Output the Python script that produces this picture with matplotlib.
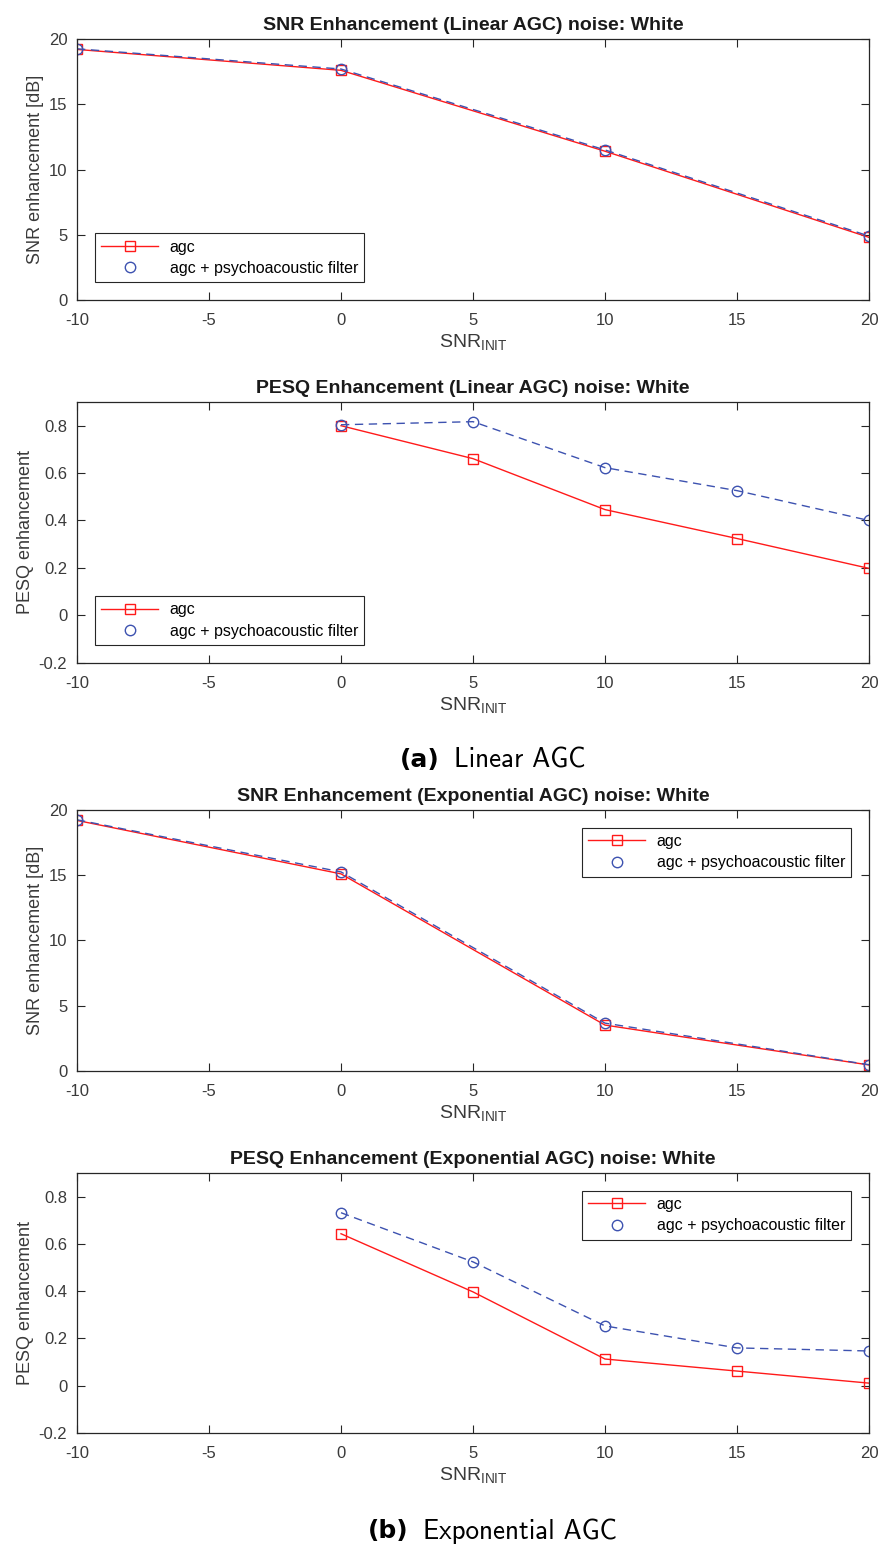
import matplotlib
matplotlib.use("Agg")
import matplotlib.pyplot as plt
from matplotlib.lines import Line2D

# SNR at input (dB)
snr_x = [-10, 0, 10, 20]
pesq_x = [0, 5, 10, 15, 20]

# Linear AGC
lin_snr_agc = [19.2, 17.6, 11.4, 4.8]
lin_snr_psy = [19.25, 17.7, 11.5, 4.9]
lin_pesq_agc = [0.80, 0.661, 0.446, 0.324, 0.198]
lin_pesq_psy = [0.804, 0.817, 0.623, 0.526, 0.40]

# Exponential AGC
exp_snr_agc = [19.2, 15.1, 3.5, 0.44]
exp_snr_psy = [19.25, 15.25, 3.65, 0.46]
exp_pesq_agc = [0.643, 0.397, 0.113, 0.062, 0.011]
exp_pesq_psy = [0.732, 0.524, 0.253, 0.160, 0.147]

titles = [
    "SNR Enhancement (Linear AGC) noise: White",
    "PESQ Enhancement (Linear AGC) noise: White",
    "SNR Enhancement (Exponential AGC) noise: White",
    "PESQ Enhancement (Exponential AGC) noise: White",
]
legend_labels = ["agc", "agc + psychoacoustic filter"]

plt.rcParams["font.family"] = ["Liberation Sans", "DejaVu Sans"]
plt.rcParams["mathtext.fontset"] = "custom"
plt.rcParams["mathtext.rm"] = "Liberation Sans"
plt.rcParams["mathtext.it"] = "Liberation Sans"

RED = "#ff1a1a"
BLUE = "#3d52b0"
GREY = "#262626"
TXT = "#3a3a3a"

fig = plt.figure(figsize=(8.81, 15.49), dpi=100)
W, H = 881, 1549
boxes = [(39, 300), (402, 662.7), (810, 1070.7), (1173, 1433)]
left, right = 77, 869

panels = [
    (snr_x, lin_snr_agc, lin_snr_psy, "snr", "lower left"),
    (pesq_x, lin_pesq_agc, lin_pesq_psy, "pesq", "lower left"),
    (snr_x, exp_snr_agc, exp_snr_psy, "snr", "upper right"),
    (pesq_x, exp_pesq_agc, exp_pesq_psy, "pesq", "upper right"),
]

for (top, bot), (x, agc, psy, kind, loc), title in zip(boxes, panels, titles):
    ax = fig.add_axes([left / W, 1 - bot / H, (right - left) / W, (bot - top) / H])
    ax.plot(x, agc, color=RED, lw=1.0, marker="s", ms=6.5, mfc="none", mec=RED, mew=1.0)
    ax.plot(x, psy, color=BLUE, lw=1.0, ls=(0, (6, 4)), marker="o", ms=7.5,
            mfc="none", mec=BLUE, mew=1.0)
    ax.set_xlim(-10, 20)
    ax.set_xticks(range(-10, 21, 5))
    if kind == "snr":
        ax.set_ylim(0, 20)
        ax.set_yticks(range(0, 21, 5))
        ax.set_ylabel("SNR enhancement [dB]", fontsize=13, color=TXT, labelpad=3)
    else:
        ax.set_ylim(-0.2, 0.9)
        ax.set_yticks([-0.2, 0, 0.2, 0.4, 0.6, 0.8])
        ax.set_yticklabels(["-0.2", "0", "0.2", "0.4", "0.6", "0.8"])
        ax.set_ylabel("PESQ enhancement", fontsize=13, color=TXT, labelpad=3)
    ax.set_xticklabels([str(v) for v in range(-10, 21, 5)])
    ax.set_xlabel(r"SNR$_{\mathrm{INIT}}$", fontsize=14, color=TXT, labelpad=3)
    ax.set_title(title, fontsize=14, fontweight="bold", pad=6.5, color="#1a1a1a")
    ax.tick_params(direction="in", length=6, width=0.8, colors=GREY,
                   labelcolor=TXT, labelsize=12, top=True, right=True)
    ax.tick_params(axis="x", pad=9.5)
    ax.tick_params(axis="y", pad=7)
    for s in ax.spines.values():
        s.set_color(GREY)
        s.set_linewidth(0.9)

    handles = [
        Line2D([], [], color=RED, lw=1.0, marker="s", ms=6.5, mfc="none", mec=RED),
        Line2D([], [], ls="none", marker="o", ms=7.5, mfc="none", mec=BLUE),
    ]
    leg = ax.legend(handles, legend_labels, loc=loc, fontsize=11.5, handlelength=3.6,
                    fancybox=False, framealpha=1, edgecolor=GREY,
                    borderaxespad=1.1, handletextpad=0.7, labelspacing=0.4)
    leg.get_frame().set_linewidth(0.8)

# sub-figure captions
fig.canvas.draw()
r = fig.canvas.get_renderer()
for y, tag, text in [(760, "(a)", "Linear AGC"), (1531, "(b)", "Exponential AGC")]:
    t1 = fig.text(0, 1 - y / H, tag, fontsize=18, fontweight="bold",
                  family="DejaVu Sans", va="center", ha="left")
    t2 = fig.text(0, 1 - y / H, text, fontsize=19.5, family="cmss10",
                  va="center", ha="left")
    w1 = t1.get_window_extent(r).width
    w2 = t2.get_window_extent(r).width
    gap = 14
    total = w1 + gap + w2
    x0 = (W / 2 + 52) - total / 2
    t1.set_x(x0 / W)
    t2.set_x((x0 + w1 + gap) / W)

fig.savefig("out.png", dpi=100)
